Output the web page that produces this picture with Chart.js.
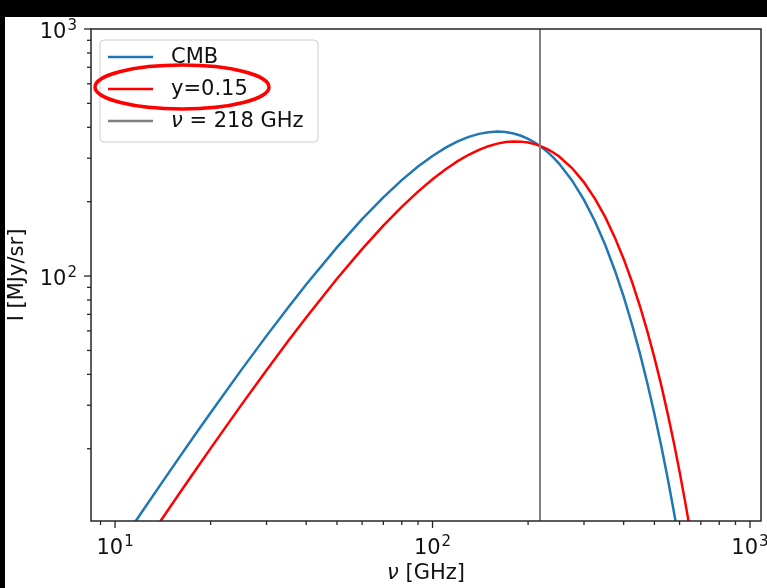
<!DOCTYPE html>
<html>
<head>
<meta charset="utf-8">
<script src="https://cdn.jsdelivr.net/npm/chart.js@4.4.1/dist/chart.umd.min.js"></script>
<style>
  html, body { margin: 0; padding: 0; background: #000; width: 767px; height: 588px; overflow: hidden; }
  #wrap { position: absolute; left: 5px; top: 17px; width: 762px; height: 571px; background: #fff; }
</style>
</head>
<body>
<div id="wrap"><canvas id="c"></canvas></div>
<script>
// ---- data ----
const freqs = [10, 12, 14, 16, 18, 20, 25, 30, 35, 40, 50, 60, 70, 80, 90, 100, 110, 120, 130, 140, 150, 160, 170, 180, 190, 200, 210, 218, 230, 240, 250, 275, 300, 325, 350, 375, 400, 425, 450, 475, 500, 525, 550, 575, 600, 625, 650, 675, 700];
const cmbValues = [7.67, 10.84, 14.49, 18.58, 23.09, 27.98, 41.71, 57.27, 74.29, 92.41, 130.7, 169.95, 208.36, 244.57, 277.5, 306.4, 330.88, 350.69, 365.76, 376.24, 382.27, 384.27, 382.54, 377.54, 369.7, 359.45, 347.19, 336.26, 318.31, 302.43, 285.92, 243.98, 203.36, 166.2, 133.47, 105.62, 82.52, 63.68, 48.66, 36.84, 27.67, 20.62, 15.26, 11.23, 8.21, 5.99, 4.34, 3.12, 2.24];
const yValues = [5.44, 7.7, 10.32, 13.27, 16.52, 20.07, 30.11, 41.6, 54.3, 67.99, 97.48, 128.55, 159.93, 190.58, 219.63, 246.49, 270.63, 291.75, 309.65, 324.25, 335.53, 343.6, 348.57, 350.62, 350.05, 347.1, 341.98, 336.56, 326.4, 316.3, 305.2, 273.7, 239.5, 205.5, 173.1, 143.4, 117.3, 94.7, 75.65, 59.7, 46.7, 36.26, 27.88, 21.31, 16.16, 12.16, 9.12, 6.8, 5.04];
const vlineFreq = 218;
const seriesLabels = ['CMB', 'y=0.15', 'ν = 218 GHz'];
const xTitle = 'ν [GHz]';
const yTitle = 'I [MJy/sr]';
const xRange = [8.4, 1083];
const yRange = [10.2, 1000];
const xMajorTicks = [10, 100, 1000];
const xMinorTicks = [9, 20, 30, 40, 50, 60, 70, 80, 90, 200, 300, 400, 500, 600, 700, 800, 900];
const yMajorTicks = [100, 1000];
const yMinorTicks = [20, 30, 40, 50, 60, 70, 80, 90, 200, 300, 400, 500, 600, 700, 800, 900];
const tickExponents = {10: '1', 100: '2', 1000: '3'};

const FONT = '"DejaVu Sans"';
const FS = 21;
const colors = ['#1f77b4', '#ff0000', '#808080'];
const TXT = '#111';

// draw a string whose leading "ν" is italic (matplotlib mathtext style)
function drawMixed(ctx, text, x, y, align) {
  const parts = text.startsWith('ν') ? [['italic ', 'ν'], ['', text.slice(1)]] : [['', text]];
  let total = 0;
  parts.forEach(p => { ctx.font = p[0] + FS + 'px ' + FONT; total += ctx.measureText(p[1]).width; });
  let cx = align === 'center' ? x - total / 2 : x;
  ctx.textAlign = 'left';
  parts.forEach(p => { ctx.font = p[0] + FS + 'px ' + FONT; ctx.fillText(p[1], cx, y); cx += ctx.measureText(p[1]).width; });
}

function drawPow(ctx, exp, x, baseY, align) {
  ctx.font = FS + 'px ' + FONT;
  const w1 = ctx.measureText('10').width;
  const sf = Math.round(FS * 0.7) + 'px ' + FONT;
  ctx.font = sf;
  const w2 = ctx.measureText(exp).width + 1;
  const start = align === 'center' ? x - (w1 + w2) / 2 : x - (w1 + w2);
  ctx.textAlign = 'left'; ctx.textBaseline = 'alphabetic';
  ctx.font = FS + 'px ' + FONT;
  ctx.fillText('10', start, baseY);
  ctx.font = sf;
  ctx.fillText(exp, start + w1 + 1, baseY - 8);
}

const decor = {
  id: 'decor',
  afterDatasetsDraw(chart) {
    const {ctx, chartArea: a, scales: {x, y}} = chart;
    ctx.save();
    // frame
    ctx.strokeStyle = '#262626';
    ctx.lineWidth = 1.5;
    ctx.strokeRect(a.left, a.top, a.right - a.left, a.bottom - a.top);
    // ticks
    ctx.lineWidth = 1.3;
    const xt = (v, len) => { const p = x.getPixelForValue(v); if (p < a.left - 0.5 || p > a.right + 0.5) return;
      ctx.beginPath(); ctx.moveTo(p, a.bottom); ctx.lineTo(p, a.bottom + len); ctx.stroke(); };
    const yt = (v, len) => { const p = y.getPixelForValue(v); if (p < a.top - 0.5 || p > a.bottom + 0.5) return;
      ctx.beginPath(); ctx.moveTo(a.left, p); ctx.lineTo(a.left - len, p); ctx.stroke(); };
    xMajorTicks.forEach(v => xt(v, 7)); xMinorTicks.forEach(v => xt(v, 4));
    yMajorTicks.forEach(v => yt(v, 7)); yMinorTicks.forEach(v => yt(v, 4));
    // tick labels
    ctx.fillStyle = TXT;
    xMajorTicks.forEach(v => drawPow(ctx, tickExponents[v], x.getPixelForValue(v), a.bottom + 33, 'center'));
    yMajorTicks.forEach(v => drawPow(ctx, tickExponents[v], a.left - 14, y.getPixelForValue(v) + 9, 'right'));
    // axis titles
    ctx.textBaseline = 'alphabetic';
    drawMixed(ctx, xTitle, (a.left + a.right) / 2, a.bottom + 58, 'center');
    ctx.save();
    ctx.translate(a.left - 73, (a.top + a.bottom) / 2);
    ctx.rotate(-Math.PI / 2);
    ctx.textBaseline = 'middle';
    drawMixed(ctx, yTitle, 0, 0, 'center');
    ctx.restore();
    // legend
    const bx = a.left + 9, by = a.top + 11, bw = 218, bh = 102, r = 4;
    ctx.beginPath();
    ctx.moveTo(bx + r, by); ctx.lineTo(bx + bw - r, by); ctx.quadraticCurveTo(bx + bw, by, bx + bw, by + r);
    ctx.lineTo(bx + bw, by + bh - r); ctx.quadraticCurveTo(bx + bw, by + bh, bx + bw - r, by + bh);
    ctx.lineTo(bx + r, by + bh); ctx.quadraticCurveTo(bx, by + bh, bx, by + bh - r);
    ctx.lineTo(bx, by + r); ctx.quadraticCurveTo(bx, by, bx + r, by); ctx.closePath();
    ctx.fillStyle = 'rgba(255,255,255,0.8)'; ctx.fill();
    ctx.strokeStyle = '#cccccc'; ctx.lineWidth = 1; ctx.stroke();
    ctx.textBaseline = 'middle';
    const rows = [17, 49, 81];
    chart.data.datasets.forEach((ds, i) => {
      const ry = by + rows[i];
      ctx.strokeStyle = ds.borderColor; ctx.lineWidth = 2.5;
      ctx.beginPath(); ctx.moveTo(bx + 8, ry); ctx.lineTo(bx + 53, ry); ctx.stroke();
      ctx.fillStyle = TXT;
      drawMixed(ctx, ds.label, bx + 71, ry + 1, 'left');
    });
    // hand-drawn red ellipse around the second entry
    ctx.strokeStyle = '#ff0000'; ctx.lineWidth = 3.5;
    ctx.beginPath();
    ctx.ellipse(bx + 82, by + rows[1] - 2, 87, 22, 0, 0, Math.PI * 2);
    ctx.stroke();
    ctx.restore();
  }
};

const mk = (vals) => freqs.map((f, i) => ({x: f, y: vals[i]}));

new Chart(document.getElementById('c'), {
  type: 'line',
  data: {
    datasets: [
      {label: seriesLabels[0], data: mk(cmbValues), borderColor: colors[0], borderWidth: 2.5, pointRadius: 0, order: 3},
      {label: seriesLabels[1], data: mk(yValues), borderColor: colors[1], borderWidth: 2.5, pointRadius: 0, order: 2},
      {label: seriesLabels[2], data: [{x: vlineFreq, y: yRange[0]}, {x: vlineFreq, y: yRange[1]}], borderColor: colors[2], borderWidth: 2, pointRadius: 0, order: 1}
    ]
  },
  options: {
    responsive: true,
    maintainAspectRatio: false,
    animation: false,
    layout: {padding: {top: 12, right: 6, left: 0, bottom: 0}},
    plugins: {legend: {display: false}, tooltip: {enabled: false}},
    scales: {
      x: {
        type: 'logarithmic', min: xRange[0], max: xRange[1],
        afterBuildTicks: s => { s.ticks = xMajorTicks.concat(xMinorTicks).sort((a, b) => a - b).map(v => ({value: v})); },
        afterFit: s => { s.height = 67; s.paddingLeft = 0; s.paddingRight = 0; },
        grid: {display: false, drawTicks: false, tickLength: 0},
        border: {display: false},
        ticks: {display: false}
      },
      y: {
        type: 'logarithmic', min: yRange[0], max: yRange[1],
        afterBuildTicks: s => { s.ticks = yMajorTicks.concat(yMinorTicks).sort((a, b) => a - b).map(v => ({value: v})); },
        afterFit: s => { s.width = 86; s.paddingTop = 0; s.paddingBottom = 0; },
        grid: {display: false, drawTicks: false, tickLength: 0},
        border: {display: false},
        ticks: {display: false}
      }
    }
  },
  plugins: [decor]
});
</script>
</body>
</html>
